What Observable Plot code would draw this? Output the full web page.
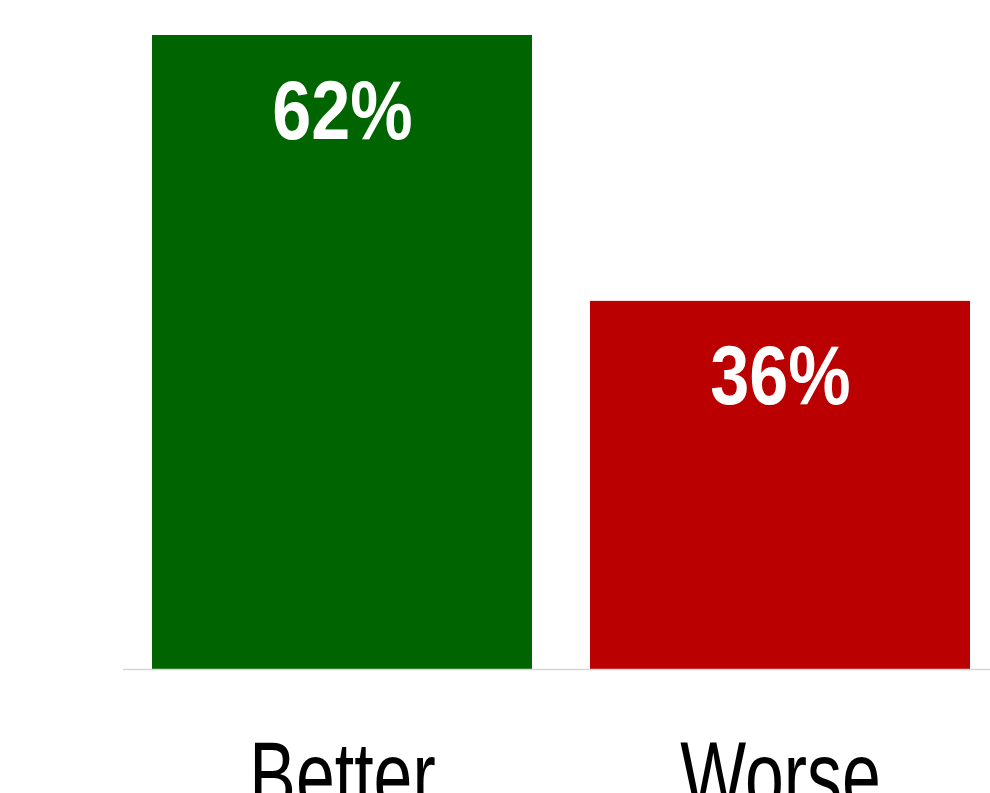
<!DOCTYPE html>
<html><head><meta charset="utf-8">
<script src="https://cdn.jsdelivr.net/npm/d3@7"></script>
<script src="https://cdn.jsdelivr.net/npm/@observablehq/plot@0.6"></script>
<style>html,body{margin:0;padding:0;background:#fff;overflow:hidden}</style>
</head><body><div id="chart"></div>
<script>
const categories = ["Better", "Worse"];
const values = [62, 36];
const colors = ["#006400", "#ba0000"];
const labels = ["62%", "36%"];

const data = categories.map((c, i) => ({cat: c, value: values[i], color: colors[i], label: labels[i]}));

const chart = Plot.plot({
  width: 990,
  height: 793,
  marginLeft: 123,
  marginRight: 0,
  marginTop: 0,
  marginBottom: 124,
  style: {fontFamily: "'Liberation Sans', Arial, sans-serif", background: "#fff"},
  x: {domain: categories, range: [123, 999], paddingInner: 0.132, paddingOuter: 0.066, label: null},
  y: {domain: [0, 62], range: [669, 35], axis: null},
  marks: [
    Plot.barY(data, {x: "cat", y: "value", fill: "color"}),
    Plot.ruleY([0], {stroke: "#d6d6d6", strokeWidth: 1.5}),
    Plot.text(data, {x: "cat", y: "value", text: "label", fill: "white", fontSize: 84, fontWeight: "bold",
      fontFamily: "'Liberation Sans', Arial, sans-serif",
      lineAnchor: "bottom", dy: 103, className: "vlabel"}),
    Plot.axisX({tickSize: 0, tickPadding: 71, fontSize: 97, fill: "black", label: null, className: "xlab"})
  ]
});
document.getElementById("chart").append(chart);

function squeeze(sel, k) {
  d3.select(chart).selectAll(sel).each(function() {
    const L = this.getComputedTextLength();
    this.setAttribute("textLength", (L * k).toFixed(1));
    this.setAttribute("lengthAdjust", "spacingAndGlyphs");
  });
}
squeeze(".vlabel text", 0.835);
squeeze(".xlab text", 0.72);
</script></body></html>
